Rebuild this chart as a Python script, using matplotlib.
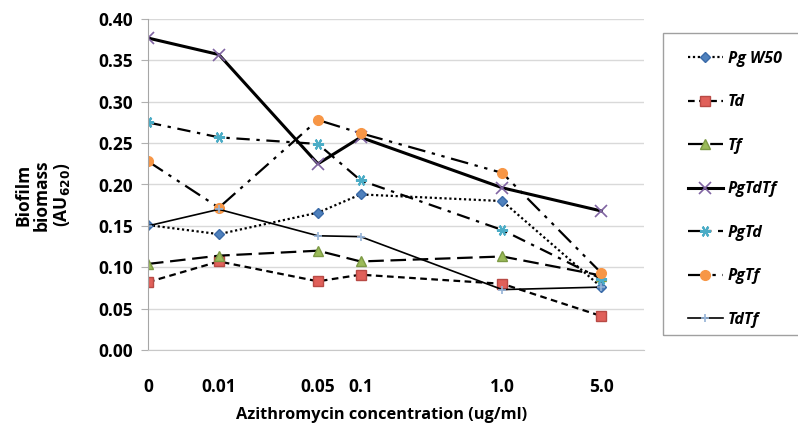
import matplotlib
matplotlib.use("Agg")
import matplotlib.pyplot as plt
from matplotlib.patches import Rectangle

plt.rcParams['font.family'] = ['Open Sans', 'DejaVu Sans']

# x axis: log scale, "0" is drawn half a decade left of 0.01
conc_labels = ['0', '0.01', '0.05', '0.1', '1.0', '5.0']
conc_pos = [0.00316, 0.01, 0.05, 0.1, 1.0, 5.0]

pg_w50 = [0.151, 0.140, 0.166, 0.188, 0.180, 0.076]
td = [0.082, 0.107, 0.083, 0.091, 0.080, 0.041]
tf = [0.104, 0.114, 0.120, 0.107, 0.113, 0.090]
pgtdtf = [0.377, 0.357, 0.225, 0.257, 0.196, 0.168]
pgtd = [0.275, 0.257, 0.249, 0.205, 0.145, 0.086]
pgtf = [0.228, 0.172, 0.278, 0.262, 0.214, 0.093]
tdtf = [0.150, 0.170, 0.138, 0.137, 0.073, 0.076]

series_names = ['Pg W50', 'Td', 'Tf', 'PgTdTf', 'PgTd', 'PgTf', 'TdTf']

##### styles #####
styles = [
    dict(ls=(0, (1, 1.2)), lw=1.6, marker='D', ms=5, mfc='#4f81bd', mec='#3a6aa8'),
    dict(ls=(0, (3, 2)), lw=1.6, marker='s', ms=6.5, mfc='#e0605a', mec='#b84a45'),
    dict(ls=(0, (7, 3)), lw=1.6, marker='^', ms=6.5, mfc='#9bbb59', mec='#7d9a45'),
    dict(ls='-', lw=2.2, marker='x', ms=9, mfc='#8064a2', mec='#8064a2', mew=1.2),
    dict(ls=(0, (6, 3, 1.5, 3)), lw=1.6, marker=(6, 2, 90), ms=8, mfc='#4bacc6', mec='#4bacc6', mew=1.5),
    dict(ls=(0, (8, 3, 1.5, 3, 1.5, 3)), lw=1.6, marker='o', ms=7, mfc='#f79646', mec='#f79646'),
    dict(ls='-', lw=1.2, marker='+', ms=6, mfc='#95b3d7', mec='#95b3d7', mew=1.2),
]
all_series = [pg_w50, td, tf, pgtdtf, pgtd, pgtf, tdtf]

fig = plt.figure(figsize=(7.98, 4.23), dpi=100)
ax = fig.add_axes([148 / 798, 1 - 350 / 423, (644 - 148) / 798, (350 - 19) / 423])

handles = []
for vals, name, st in zip(all_series, series_names, styles):
    h, = ax.plot(conc_pos, vals, color='black', label=name, **st)
    handles.append(h)

ax.set_xscale('log')
ax.set_xlim(0.00316, 10)
ax.set_ylim(0, 0.40)
ax.minorticks_off()
ax.set_xticks(conc_pos)
ax.set_xticklabels(conc_labels, fontsize=12.5, fontweight='bold')
ax.tick_params(axis='x', length=0, pad=20)
ax.set_yticks([0, 0.05, 0.10, 0.15, 0.20, 0.25, 0.30, 0.35, 0.40])
ax.set_yticklabels(['%.2f' % v for v in ax.get_yticks()], fontsize=12.5, fontweight='bold')
ax.tick_params(axis='y', length=5, color='#b0b0b0', pad=6)

ax.grid(axis='y', color='#d9d9d9', lw=1)
ax.set_axisbelow(True)
for s in ['top', 'right']:
    ax.spines[s].set_visible(False)
ax.spines['left'].set_color('#a6a6a6')
ax.spines['bottom'].set_color('#c8c8c8')

fig.text(382 / 798, 1 - 415 / 423, 'Azithromycin concentration (ug/ml)', ha='center', va='center',
         fontsize=11.8, fontweight='bold')
fig.text(43 / 798, 1 - 195 / 423, 'Biofilm\nbiomass\n(AU$_{\\mathbf{620}}$)', rotation=90,
         ha='center', va='center', fontsize=12.5, fontweight='bold', multialignment='center',
         linespacing=1.05)

# legend box runs off the right edge
fig.patches.append(Rectangle((663 / 798, 1 - 335 / 423), 0.2, (335 - 33) / 423,
                             transform=fig.transFigure, fill=False, ec='#a0a0a0', lw=1))
fig.legend(handles=handles, loc='upper left', bbox_to_anchor=(675 / 798, 1 - 38 / 423),
           frameon=False, prop=dict(size=11.5, weight='bold', style='italic'),
           handlelength=2.2, handletextpad=0.3, labelspacing=1.72, borderpad=0.3)

fig.savefig('out.png', dpi=100)
